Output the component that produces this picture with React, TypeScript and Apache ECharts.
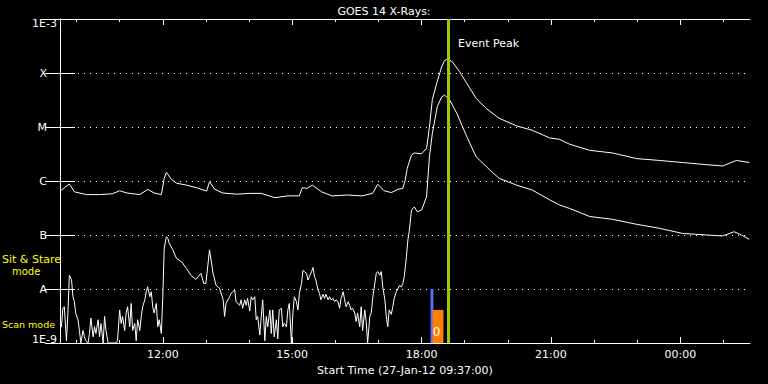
import { useEffect, useRef } from 'react';
import * as echarts from 'echarts';

// Time in minutes after the start time 27-Jan-12 09:37:00
const START_LABEL = 'Start Time (27-Jan-12 09:37:00)';
const TITLE = 'GOES 14 X-Rays:';
const X_MIN = 0;
const X_MAX = 960;
const majorTickMinutes = [143, 323, 503, 683, 863];
const majorTickLabels = ['12:00', '15:00', '18:00', '21:00', '00:00'];
const minorTickMinutes = [23, 83, 203, 263, 383, 443, 563, 623, 743, 803, 923];

const yExponents = [-9, -8, -7, -6, -5, -4, -3];
const yTickLabels = ['1E-9', 'A', 'B', 'C', 'M', 'X', '1E-3'];

// Long channel (1-8 Å), [minute, W/m^2]
const longChannel: [number, number][] = [
  [0, 6.5e-7], [13, 8.8e-7], [20, 6.3e-7], [37, 5.6e-7], [55, 5.6e-7], [73, 5.8e-7], [83, 6.6e-7],
  [93, 6.0e-7], [111, 5.6e-7], [122, 7.0e-7], [131, 6.0e-7], [141, 5.6e-7], [145, 1.12e-6], [148, 1.45e-6],
  [155, 1.07e-6], [162, 9.1e-7], [176, 8.4e-7], [190, 7.5e-7], [204, 6.5e-7], [208, 9.7e-7], [215, 7.1e-7],
  [226, 6.0e-7], [246, 5.7e-7], [264, 5.9e-7], [280, 5.9e-7], [299, 4.9e-7], [317, 5.3e-7], [333, 5.3e-7],
  [337, 7.5e-7], [344, 7.3e-7], [351, 8.4e-7], [364, 6.3e-7], [378, 5.3e-7], [400, 5.5e-7], [420, 5.3e-7],
  [435, 5.9e-7], [442, 8.7e-7], [451, 6.6e-7], [461, 6.1e-7], [470, 7.0e-7], [477, 7.3e-7], [480, 1.0e-6],
  [483, 1.7e-6], [489, 3.0e-6], [493, 3.3e-6], [503, 3.2e-6], [510, 4.0e-6], [514, 1.0e-5], [518, 3.2e-5],
  [524, 6.4e-5], [531, 1.3e-4], [535, 1.7e-4], [539, 1.8e-4], [546, 1.6e-4], [556, 1.05e-4], [566, 6.4e-5],
  [579, 3.4e-5], [593, 2.2e-5], [611, 1.45e-5], [635, 1.05e-5], [657, 8.7e-6], [681, 6.3e-6], [695, 5.9e-6],
  [709, 4.8e-6], [737, 3.7e-6], [769, 3.3e-6], [802, 2.6e-6], [834, 2.4e-6], [866, 2.2e-6], [900, 2.0e-6],
  [922, 1.9e-6], [941, 2.4e-6], [959, 2.2e-6],
];

// Short channel (0.5-4 Å), [minute, W/m^2]
const shortChannel: [number, number][] = [
  [0, 2.0e-9], [2, 2.0e-9], [4, 4.4e-9], [6, 4.7e-9], [9, 1.1e-9], [11, 3.6e-9], [13, 1.8e-8], [16, 1.5e-8],
  [18, 7.2e-9], [20, 5.8e-9], [22, 3.5e-9], [25, 2.7e-9], [27, 1.7e-9], [29, 1.0e-9], [32, 1.7e-9], [34, 1.3e-9],
  [36, 1.1e-9], [39, 1.0e-9], [41, 1.5e-9], [43, 2.9e-9], [46, 1.3e-9], [48, 2.0e-9], [50, 1.5e-9], [53, 2.7e-9],
  [55, 1.3e-9], [57, 2.3e-9], [60, 1.0e-9], [62, 3.1e-9], [64, 1.7e-9], [67, 1.0e-9], [69, 1.0e-9], [71, 1.0e-9],
  [73, 1.0e-9], [76, 1.0e-9], [78, 1.0e-9], [80, 1.1e-9], [83, 4.1e-9], [85, 2.3e-9], [87, 3.1e-9], [90, 1.7e-9],
  [92, 3.6e-9], [94, 4.7e-9], [97, 2.0e-9], [99, 5.4e-9], [101, 1.7e-9], [104, 2.3e-9], [106, 1.1e-9], [108, 2.7e-9],
  [111, 1.7e-9], [113, 3.1e-9], [115, 4.7e-9], [118, 6.3e-9], [120, 8.9e-9], [122, 1.1e-8], [125, 7.2e-9],
  [127, 8.9e-9], [129, 4.7e-9], [131, 3.6e-9], [134, 5.4e-9], [136, 2.0e-9], [138, 2.7e-9], [141, 1.5e-9],
  [143, 7.2e-9], [145, 5.7e-8], [148, 9.3e-8], [150, 8.7e-8], [152, 7.0e-8], [157, 5.3e-8], [162, 3.7e-8],
  [169, 3.2e-8], [176, 2.4e-8], [182, 1.8e-8], [189, 1.5e-8], [196, 1.95e-8], [200, 1.27e-8], [203, 1.27e-8],
  [208, 5.3e-8], [213, 1.95e-8], [217, 1.18e-8], [222, 1.03e-8], [227, 6.3e-9], [229, 3.1e-9], [231, 5.4e-9],
  [236, 7.2e-9], [238, 8.3e-9], [243, 9.6e-9], [245, 5.8e-9], [250, 5.0e-9], [252, 6.3e-9], [254, 4.4e-9],
  [257, 6.3e-9], [259, 5.0e-9], [261, 6.7e-9], [264, 3.9e-9],
  [266, 7.2e-9], [268, 6.3e-9], [271, 7.2e-9], [273, 2.7e-9], [275, 3.1e-9], [278, 1.4e-9], [280, 3.1e-9],
  [282, 6.3e-9], [285, 1.1e-9], [287, 3.1e-9], [289, 2.0e-9], [292, 4.1e-9], [294, 1.5e-9], [296, 4.1e-9],
  [298, 1.3e-9], [301, 2.7e-9], [303, 1.2e-9], [305, 4.1e-9], [308, 4.4e-9], [310, 2.0e-9], [312, 2.3e-9],
  [315, 2.0e-9], [317, 4.1e-9], [319, 5.4e-9], [322, 1.0e-9], [324, 3.6e-9], [326, 7.2e-9], [329, 5.8e-9],
  [331, 4.1e-9], [333, 8.3e-9], [336, 1.27e-8], [338, 2.2e-8], [340, 2.1e-8], [343, 1.95e-8], [345, 1.47e-8],
  [347, 1.7e-8], [350, 2.1e-8], [352, 2.5e-8], [354, 1.7e-8], [356, 1.47e-8], [359, 9.6e-9], [361, 8.3e-9],
  [363, 6.3e-9], [366, 8.0e-9], [368, 6.7e-9], [370, 8.0e-9], [373, 6.3e-9], [375, 7.2e-9], [377, 6.3e-9],
  [380, 6.7e-9], [382, 5.8e-9], [384, 6.3e-9], [387, 5.8e-9], [389, 4.4e-9], [391, 6.7e-9], [394, 8.9e-9],
  [396, 6.3e-9], [398, 4.7e-9], [401, 5.8e-9], [403, 5.0e-9], [405, 4.1e-9], [407, 4.4e-9], [410, 3.6e-9],
  [412, 2.5e-9], [414, 3.6e-9], [417, 2.0e-9], [419, 4.7e-9], [421, 1.7e-9], [424, 4.1e-9], [426, 2.5e-9],
  [428, 1.0e-9], [431, 3.1e-9], [433, 3.6e-9], [435, 6.7e-9], [438, 1.27e-8], [440, 1.95e-8], [442, 2.1e-8],
  [445, 1.8e-8], [447, 2.1e-8], [449, 1.1e-8], [452, 6.3e-9], [454, 3.1e-9], [456, 2.0e-9], [458, 4.1e-9],
  [461, 3.4e-9], [463, 4.7e-9], [465, 6.7e-9], [468, 8.9e-9], [470, 1.0e-8], [472, 1.15e-8], [475, 1.1e-8],
  [477, 1.27e-8], [479, 1.7e-8], [482, 4.0e-8], [484, 8.1e-8], [486, 1.2e-7],
  [489, 2.9e-7], [493, 3.3e-7], [497, 2.7e-7], [503, 2.9e-7], [510, 5.1e-7], [514, 2.8e-6], [518, 7.6e-6],
  [525, 2.4e-5], [531, 3.6e-5], [535, 3.9e-5], [542, 3.2e-5], [552, 1.8e-5], [566, 6.6e-6], [579, 2.8e-6],
  [598, 1.6e-6], [611, 1.12e-6], [635, 8.4e-7], [657, 6.8e-7], [681, 4.5e-7], [695, 3.6e-7], [709, 3.1e-7],
  [737, 2.2e-7], [769, 1.95e-7], [802, 1.58e-7], [834, 1.33e-7], [866, 1.07e-7], [900, 1.0e-7], [922, 9.6e-8],
  [938, 1.15e-7], [948, 1.0e-7], [959, 8.3e-8],
];

const eventPeakMinute = 540;
// Sit & Stare window [start, end, top flux], Scan window [start, end, top flux]
const sitStareWindow = [515.5, 519.5, 1e-8];
const scanWindow = [518.5, 533.5, 4.1e-9];

const FONT = '"DejaVu Sans", sans-serif';
const FS = 11;
const WHITE = '#ffffff';

export default function App() {
  const ref = useRef<HTMLDivElement>(null);
  useEffect(() => {
    const chart = echarts.init(ref.current!, null, { renderer: 'svg' });
    const tickAxis = (pos: string, values: number[], len: number) => ({
      type: 'value',
      position: pos,
      min: X_MIN,
      max: X_MAX,
      axisLine: { show: false },
      axisTick: { show: true, inside: true, length: len, customValues: values, lineStyle: { color: WHITE, width: 1 } },
      axisLabel: { show: false },
      splitLine: { show: false },
    });
    const option: any = {
      animation: false,
      backgroundColor: '#000000',
      title: {
        text: TITLE,
        left: 'center',
        top: 1,
        textStyle: { color: WHITE, fontFamily: FONT, fontSize: FS, fontWeight: 'normal' },
      },
      grid: { left: 60, right: 18, top: 19, bottom: 41 },
      xAxis: [
        {
          type: 'value',
          position: 'bottom',
          min: X_MIN,
          max: X_MAX,
          name: START_LABEL,
          nameLocation: 'middle',
          nameGap: 20,
          nameTextStyle: { color: WHITE, fontFamily: FONT, fontSize: FS },
          axisLine: { show: true, lineStyle: { color: WHITE, width: 1 } },
          axisTick: { show: true, inside: true, length: 6, customValues: majorTickMinutes, lineStyle: { color: WHITE } },
          axisLabel: {
            show: true,
            customValues: majorTickMinutes,
            color: WHITE,
            fontFamily: FONT,
            fontSize: FS,
            margin: 6,
            formatter: (v: number) => {
              const i = majorTickMinutes.indexOf(Math.round(v));
              return i >= 0 ? majorTickLabels[i] : '';
            },
          },
          splitLine: { show: false },
        },
        {
          type: 'value',
          position: 'top',
          min: X_MIN,
          max: X_MAX,
          axisLine: { show: true, lineStyle: { color: WHITE, width: 1 } },
          axisTick: { show: true, inside: true, length: 6, customValues: majorTickMinutes, lineStyle: { color: WHITE } },
          axisLabel: { show: false },
          splitLine: { show: false },
        },
        tickAxis('bottom', minorTickMinutes, 3),
        tickAxis('top', minorTickMinutes, 3),
      ],
      yAxis: [
        {
          type: 'log',
          logBase: 10,
          position: 'left',
          min: 1e-9,
          max: 1e-3,
          splitNumber: 6,
          axisLine: { show: true, lineStyle: { color: WHITE, width: 1 } },
          axisTick: { show: true, inside: true, length: 15, lineStyle: { color: WHITE } },
          axisLabel: {
            color: WHITE,
            fontFamily: FONT,
            fontSize: FS,
            margin: 3,
            formatter: (v: number) => {
              const e = Math.round(Math.log10(v));
              const i = yExponents.indexOf(e);
              if (i < 0) return '';
              const t = yTickLabels[i];
              if (i === 0) return `{lo|${t}}`;
              if (i === yTickLabels.length - 1) return `{hi|${t}}`;
              return `{l|${t}}`;
            },
            rich: {
              l: { color: WHITE, fontFamily: FONT, fontSize: FS, padding: [0, 10, 0, 0] },
              hi: { color: WHITE, fontFamily: FONT, fontSize: FS, padding: [9, 0, 0, 0] },
              lo: { color: WHITE, fontFamily: FONT, fontSize: FS, padding: [0, 0, 7, 0] },
            },
          },
          splitLine: { show: true, lineStyle: { color: WHITE, width: 1, type: [1, 5] } },
        },
        {
          type: 'log',
          logBase: 10,
          position: 'right',
          min: 1e-9,
          max: 1e-3,
          splitNumber: 6,
          axisLine: { show: true, lineStyle: { color: WHITE, width: 1 } },
          axisTick: { show: true, inside: true, length: 15, lineStyle: { color: WHITE } },
          axisLabel: { show: false },
          splitLine: { show: false },
        },
      ],
      series: [
        {
          name: 'Short',
          type: 'line',
          xAxisIndex: 0,
          yAxisIndex: 0,
          data: shortChannel,
          showSymbol: false,
          symbol: 'none',
          lineStyle: { color: WHITE, width: 1 },
          silent: true,
          z: 3,
          markArea: {
            silent: true,
            data: [
              [
                { xAxis: sitStareWindow[0], yAxis: 1e-9, itemStyle: { color: '#5f6cff' } },
                { xAxis: sitStareWindow[1], yAxis: sitStareWindow[2] },
              ],
              [
                {
                  xAxis: scanWindow[0],
                  yAxis: 1e-9,
                  itemStyle: { color: '#ff7f00' },
                  label: {
                    show: true,
                    formatter: '0',
                    position: [0, 16],
                    color: WHITE,
                    fontFamily: FONT,
                    fontSize: 12,
                  },
                },
                { xAxis: scanWindow[1], yAxis: scanWindow[2] },
              ],
            ],
          },
        },
        {
          name: 'Long',
          type: 'line',
          xAxisIndex: 0,
          yAxisIndex: 0,
          data: longChannel,
          showSymbol: false,
          symbol: 'none',
          lineStyle: { color: WHITE, width: 1 },
          silent: true,
          z: 3,
          markLine: {
            silent: true,
            symbol: 'none',
            label: { show: false },
            lineStyle: { color: '#99cc00', width: 3, type: 'solid' },
            data: [{ xAxis: eventPeakMinute }],
          },
        },
      ],
      graphic: [
        { type: 'text', x: 458, y: 43, style: { text: 'Event Peak', fill: WHITE, font: `${FS}px ${FONT}`, verticalAlign: 'middle' } },
        { type: 'text', x: 2, y: 259, style: { text: 'Sit & Stare', fill: '#ffff00', font: `${FS}px ${FONT}`, verticalAlign: 'middle' } },
        { type: 'text', x: 12, y: 271, style: { text: 'mode', fill: '#ffff00', font: `10px ${FONT}`, verticalAlign: 'middle' } },
        { type: 'text', x: 2, y: 324, style: { text: 'Scan mode', fill: '#ffff00', font: `9.5px ${FONT}`, verticalAlign: 'middle' } },
      ],
    };
    chart.setOption(option);
    return () => chart.dispose();
  }, []);
  return (
    <div
      ref={ref}
      style={{ position: 'absolute', left: 0, top: 0, width: 768, height: 384, background: '#000' }}
    />
  );
}
